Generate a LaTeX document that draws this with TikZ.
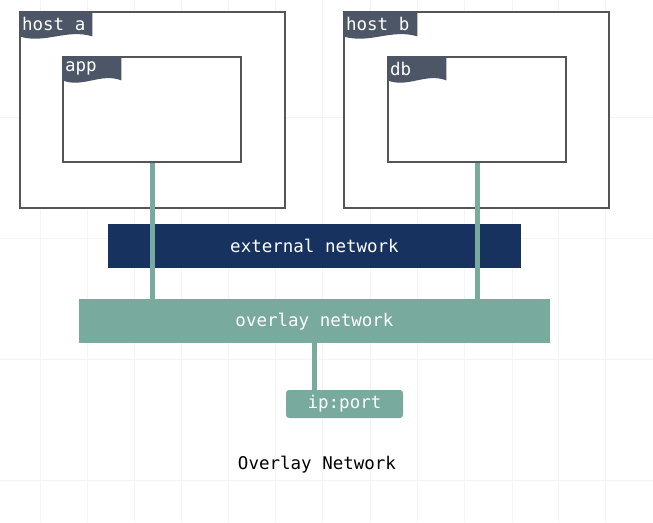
\documentclass[tikz,border=0pt]{standalone}
\usepackage{fontspec}
\newfontfamily\monofnt{DejaVu Sans Mono}
\usetikzlibrary{calc}
\definecolor{tealnet}{HTML}{78AA9E}
\definecolor{darknet}{HTML}{17325F}
\definecolor{tabfill}{HTML}{4C5667}
\definecolor{boxline}{HTML}{555555}
\definecolor{gridc}{HTML}{F3F5F5}
\tikzset{
  hostbox/.style={draw=boxline, line width=1.2pt, fill=white, minimum width=265pt, minimum height=196pt, inner sep=0pt},
  ctrbox/.style={draw=boxline, line width=1.2pt, fill=white, minimum width=178pt, minimum height=105pt, inner sep=0pt},
  netbar/.style={inner sep=0pt, text=white, font=\monofnt\fontsize{17.5}{20}\selectfont},
  tabtext/.style={text=white, anchor=west, inner sep=0pt, font=\monofnt\fontsize{17.5}{20}\selectfont},
  link/.style={draw=tealnet, line width=5pt},
  gridline/.style={draw=gridc, line width=0.8pt}
}
\newcommand{\mytab}[4]{%
  \fill[tabfill] (#1.north west) -- ++(#2,0) -- ++(0,#3)
    .. controls +(-0.35*#2,-8) and +(0.35*#2,8) .. ($(#1.north west)+(0,#3)$) -- cycle;
  \node[tabtext] at ($(#1.north west)+(2.5,12.5)$) {#4};
}
\begin{document}
\begin{tikzpicture}[x=1pt,y=-1pt]
\useasboundingbox (0,0) rectangle (653,522);
\fill[white] (0,0) rectangle (653,522);
% faint background grid
\foreach \gx in {40,87,134,181,228,275,322,370,417,464,512,558,605}
  \draw[gridline] (\gx,0) -- (\gx,522);
\foreach \gy in {117,238,359,480}
  \draw[gridline] (0,\gy) -- (653,\gy);
% hosts
\node[hostbox] (hosta) at (152.5,110) {};
\node[hostbox] (hostb) at (476.5,110) {};
\mytab{hosta}{73}{25}{host a}
\mytab{hostb}{74}{25}{host b}
% containers
\node[ctrbox] (app) at (152,109.5) {};
\node[ctrbox] (db) at (477,109.5) {};
\mytab{app}{59}{24}{app}
\mytab{db}{59}{24}{db}
% networks
\node[netbar, fill=darknet, minimum width=413pt, minimum height=44pt] (ext) at (314.5,246) {external network};
\node[netbar, fill=tealnet, minimum width=471pt, minimum height=44pt] (ovl) at (314.5,321) {};
% links
\draw[link] (app.south) -- (app.south |- ovl.north);
\draw[link] (db.south) -- (db.south |- ovl.north);
\node[netbar] at (314.5,322) {overlay network};
\node[netbar, fill=tealnet, rounded corners=3pt, minimum width=117pt, minimum height=28pt] (ip) at (344.5,404) {ip:port};
\draw[link] ([xshift=-0.5pt]ovl.south) -- ([xshift=-0.5pt]ovl.south |- ip.north);
% caption
\node[inner sep=0pt, font=\monofnt\fontsize{17.5}{20}\selectfont] (cap) at (317,465) {Overlay Network};
\end{tikzpicture}
\end{document}
